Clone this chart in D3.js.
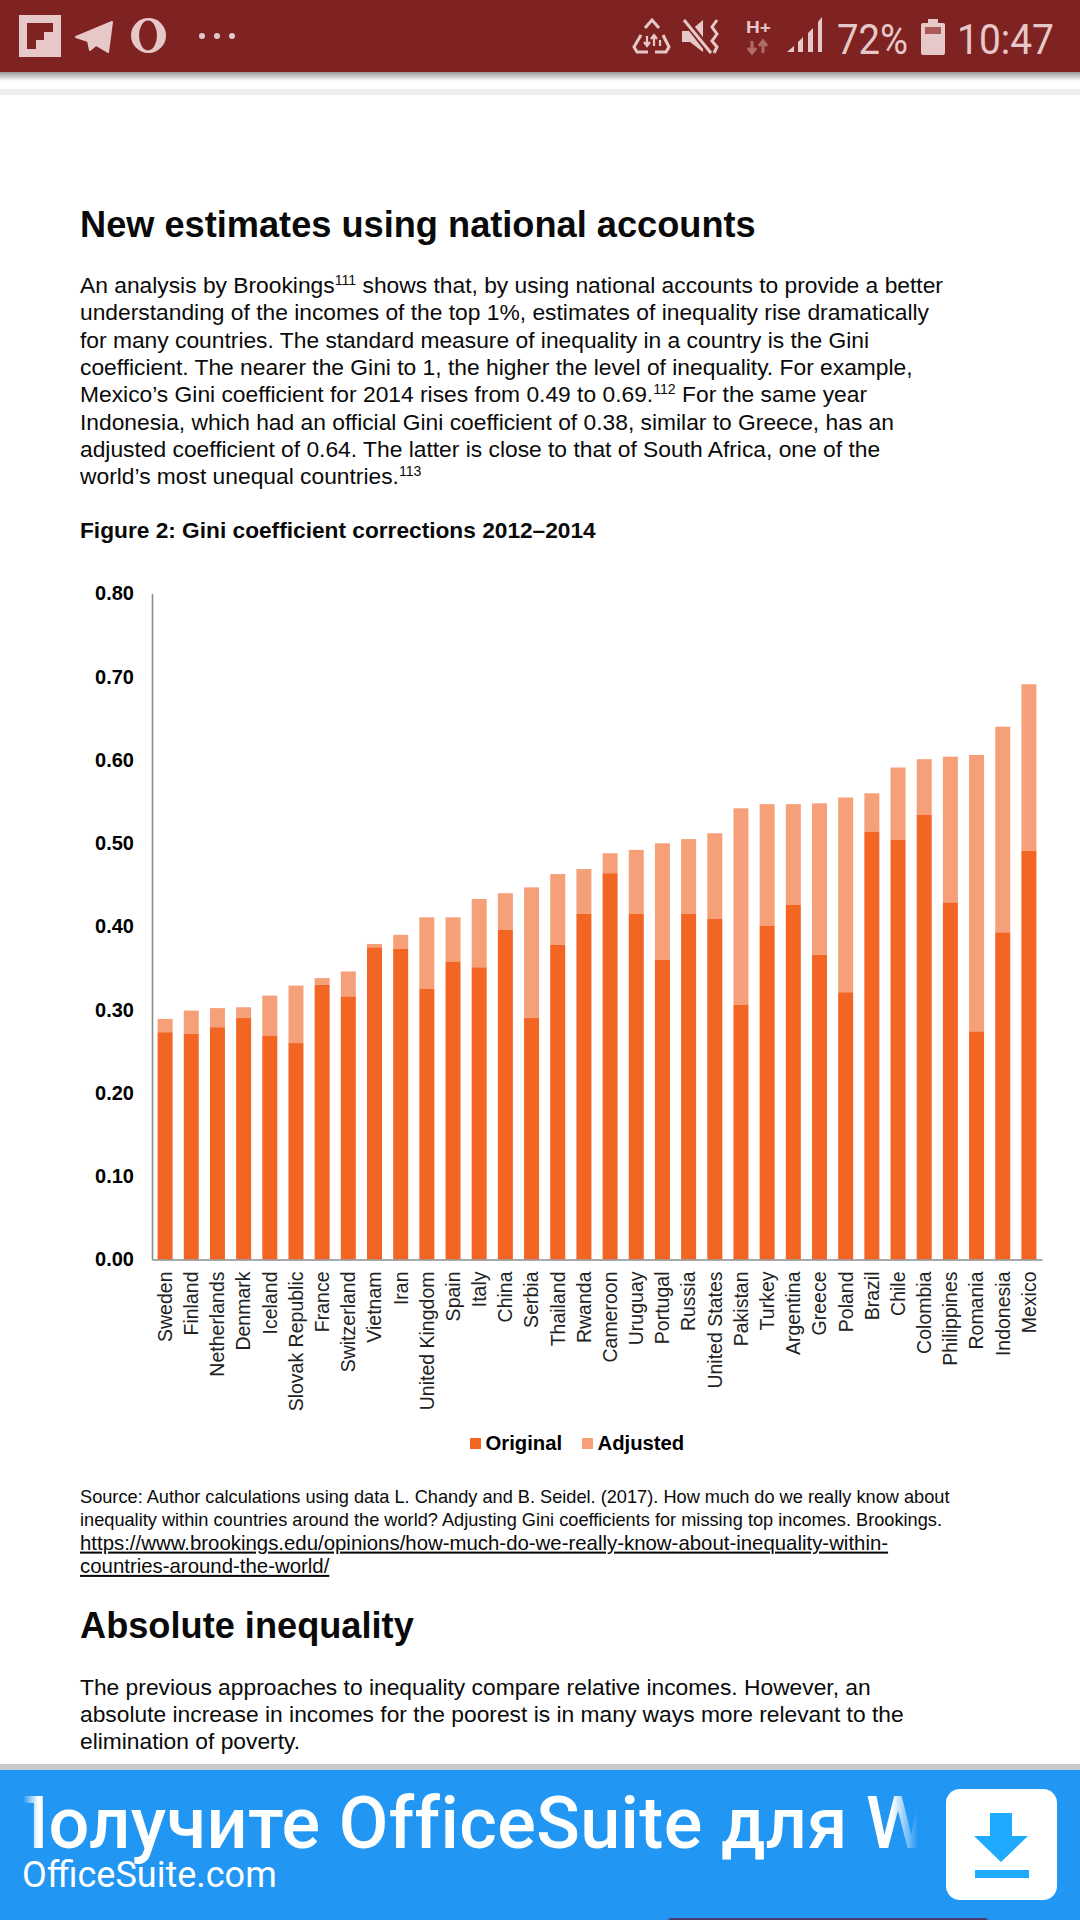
<!DOCTYPE html>
<html lang="en">
<head>
    <meta charset="UTF-8">
    <title>Gini coefficient corrections 2012–2014</title>
    <script src="https://d3js.org/d3.v7.min.js"></script>
    <style>
        body { margin: 0; padding: 0; background: #fff; }
        svg { display: block; }
        text { font-family: "Liberation Sans", Arial, sans-serif; fill: #0a0a0a; }
        .axis text { font-family: "Liberation Sans", Arial, sans-serif; }
    </style>
</head>
<body>
    <script>
        // Chart data
        var countries = ["Sweden", "Finland", "Netherlands", "Denmark", "Iceland", "Slovak Republic", "France",
            "Switzerland", "Vietnam", "Iran", "United Kingdom", "Spain", "Italy", "China", "Serbia", "Thailand",
            "Rwanda", "Cameroon", "Uruguay", "Portugal", "Russia", "United States", "Pakistan", "Turkey",
            "Argentina", "Greece", "Poland", "Brazil", "Chile", "Colombia", "Philippines", "Romania",
            "Indonesia", "Mexico"];
        var original = [0.273, 0.271, 0.279, 0.290, 0.269, 0.260, 0.330, 0.316, 0.375, 0.373, 0.325, 0.358,
            0.351, 0.396, 0.290, 0.378, 0.415, 0.464, 0.415, 0.360, 0.415, 0.409, 0.306, 0.401,
            0.426, 0.366, 0.321, 0.514, 0.504, 0.534, 0.429, 0.274, 0.393, 0.491];
        var adjusted = [0.289, 0.299, 0.302, 0.303, 0.317, 0.329, 0.338, 0.346, 0.379, 0.390, 0.411, 0.411,
            0.433, 0.440, 0.447, 0.463, 0.469, 0.488, 0.492, 0.500, 0.505, 0.512, 0.542, 0.547,
            0.547, 0.548, 0.555, 0.560, 0.591, 0.601, 0.604, 0.606, 0.640, 0.691];
        var yTicks = [0, 0.1, 0.2, 0.3, 0.4, 0.5, 0.6, 0.7, 0.8];
        var legendLabels = ["Original", "Adjusted"];

        // Page text (^...^ = superscript)
        var heading1 = "New estimates using national accounts";
        var paragraph1 = [
            "An analysis by Brookings^111^ shows that, by using national accounts to provide a better",
            "understanding of the incomes of the top 1%, estimates of inequality rise dramatically",
            "for many countries. The standard measure of inequality in a country is the Gini",
            "coefficient. The nearer the Gini to 1, the higher the level of inequality. For example,",
            "Mexico’s Gini coefficient for 2014 rises from 0.49 to 0.69.^112^ For the same year",
            "Indonesia, which had an official Gini coefficient of 0.38, similar to Greece, has an",
            "adjusted coefficient of 0.64. The latter is close to that of South Africa, one of the",
            "world’s most unequal countries.^113^"
        ];
        var figureTitle = "Figure 2: Gini coefficient corrections 2012–2014";
        var sourceLines = [
            "Source: Author calculations using data L. Chandy and B. Seidel. (2017). How much do we really know about",
            "inequality within countries around the world? Adjusting Gini coefficients for missing top incomes. Brookings."
        ];
        var sourceLinks = [
            "https://www.brookings.edu/opinions/how-much-do-we-really-know-about-inequality-within-",
            "countries-around-the-world/"
        ];
        var heading2 = "Absolute inequality";
        var paragraph2 = [
            "The previous approaches to inequality compare relative incomes. However, an",
            "absolute increase in incomes for the poorest is in many ways more relevant to the",
            "elimination of poverty."
        ];

        var width = 1080;
        var height = 1920;
        var orange = "#f26522";
        var lightOrange = "#f6a07a";
        var barRed = "#7f2322";
        var iconColor = "#e6c8c8";
        var bannerBlue = "#2196f3";

        var svg = d3.select("body").append("svg")
            .attr("width", width)
            .attr("height", height);

        var defs = svg.append("defs");

        // Status bar
        var shadow = defs.append("linearGradient").attr("id", "shadow")
            .attr("x1", 0).attr("x2", 0).attr("y1", 0).attr("y2", 1);
        shadow.append("stop").attr("offset", 0).attr("stop-color", "#999");
        shadow.append("stop").attr("offset", 1).attr("stop-color", "#fff");

        svg.append("rect").attr("x", 0).attr("y", 72).attr("width", width).attr("height", 9).attr("fill", "url(#shadow)");
        svg.append("rect").attr("x", 0).attr("y", 89).attr("width", width).attr("height", 6).attr("fill", "#eeeeee");
        svg.append("rect").attr("x", 0).attr("y", 0).attr("width", width).attr("height", 72).attr("fill", barRed);

        var statusBar = svg.append("g");

        // left icons
        statusBar.append("rect").attr("x", 19).attr("y", 15).attr("width", 42).attr("height", 42).attr("fill", iconColor);
        statusBar.append("path").attr("d", "M27 23H53V32H44V40H36V49H27Z").attr("fill", barRed);
        statusBar.append("path").attr("d", "M76 37L112 22L108 52L96 45L90 50L88 41Z")
            .attr("fill", iconColor).attr("stroke", iconColor).attr("stroke-width", 2).attr("stroke-linejoin", "round");
        statusBar.append("ellipse").attr("cx", 148.5).attr("cy", 35.5).attr("rx", 17.5).attr("ry", 17.5).attr("fill", iconColor);
        statusBar.append("ellipse").attr("cx", 148).attr("cy", 35.5).attr("rx", 9).attr("ry", 15).attr("fill", barRed);
        statusBar.selectAll("circle.dot").data([202, 217, 232]).join("circle")
            .attr("class", "dot").attr("cx", function(d) { return d; }).attr("cy", 36).attr("r", 3).attr("fill", iconColor);

        // data saver icon
        statusBar.append("path")
            .attr("d", "M645 28L652 20L659 28M641 35L634 47L637 52H648M663 35L669 47L666 52H655")
            .attr("fill", "none").attr("stroke", iconColor).attr("stroke-width", 3);
        statusBar.append("path")
            .attr("d", "M647 36V46M644 42L647 46L650 42M654 46V35M651 39L654 35L657 39M660 46V40")
            .attr("fill", "none").attr("stroke", iconColor).attr("stroke-width", 2.2);

        // mute icon
        statusBar.append("path").attr("d", "M682 31H690L703 20V52L690 42H682Z").attr("fill", iconColor);
        statusBar.append("path").attr("d", "M685 20L710 52").attr("stroke", barRed).attr("stroke-width", 7);
        statusBar.append("path").attr("d", "M684 20L711 53").attr("stroke", iconColor).attr("stroke-width", 3);
        statusBar.append("path").attr("d", "M717 20L712 27L717 34L712 41L717 47L714 53")
            .attr("fill", "none").attr("stroke", iconColor).attr("stroke-width", 3);

        // network icons
        statusBar.append("text").text("H+").attr("x", 746).attr("y", 33).attr("font-size", 17).attr("font-weight", "bold")
            .style("fill", iconColor).attr("textLength", 25).attr("lengthAdjust", "spacingAndGlyphs");
        statusBar.append("path").attr("d", "M752 41V53M748 48L752 53L756 48M763 53V41M759 46L763 41L767 46")
            .attr("fill", "none").attr("stroke", "#b06a68").attr("stroke-width", 3);
        statusBar.append("path")
            .attr("d", "M787 52L794 46V52ZM798 42L803 37V52H798ZM808 33L813 28V52H808ZM818 22L822 17V52H818Z")
            .attr("fill", iconColor);

        statusBar.append("text").text("72%").attr("x", 837).attr("y", 54).attr("font-size", 43)
            .attr("textLength", 71).attr("lengthAdjust", "spacingAndGlyphs")
            .style("font-family", "Roboto").style("font-weight", 400).style("fill", iconColor);
        statusBar.append("rect").attr("x", 921).attr("y", 23).attr("width", 24).attr("height", 32).attr("rx", 2).attr("fill", iconColor);
        statusBar.append("rect").attr("x", 928).attr("y", 19).attr("width", 10).attr("height", 4).attr("fill", iconColor);
        statusBar.append("rect").attr("x", 925).attr("y", 27).attr("width", 16).attr("height", 7).attr("fill", "#a85a58");
        statusBar.append("text").text("10:47").attr("x", 957).attr("y", 54).attr("font-size", 43)
            .attr("textLength", 97).attr("lengthAdjust", "spacingAndGlyphs")
            .style("font-family", "Roboto").style("font-weight", 400).style("fill", iconColor);

        // Page text
        function addLine(x, y, line, size) {
            var t = svg.append("text").attr("x", x).attr("y", y).attr("font-size", size);
            line.split("^").forEach(function(part, i) {
                if (!part) return;
                if (i % 2 === 1) {
                    t.append("tspan").attr("dy", -size * 0.36).attr("font-size", size * 0.62).text(part);
                } else {
                    t.append("tspan").attr("dy", i > 0 ? size * 0.36 : 0).text(part);
                }
            });
            return t;
        }

        addLine(80, 237, heading1, 36.2).attr("font-weight", "bold");
        paragraph1.forEach(function(line, i) {
            addLine(80, 293 + i * 27.3, line, 22.8);
        });
        addLine(80, 538, figureTitle, 22.7).attr("font-weight", "bold");

        // Chart
        var margin = { left: 152, right: 1042, top: 593.5, bottom: 1259.5 };

        var x = d3.scaleBand().domain(countries).range([margin.left, margin.right]).paddingInner(0.427).paddingOuter(0.2135);
        var y = d3.scaleLinear().domain([0, 0.8]).range([margin.bottom, margin.top]);

        svg.selectAll("rect.adjusted").data(countries).join("rect")
            .attr("class", "adjusted")
            .attr("x", function(d) { return x(d); })
            .attr("y", function(d, i) { return y(adjusted[i]); })
            .attr("width", x.bandwidth())
            .attr("height", function(d, i) { return y(original[i]) - y(adjusted[i]); })
            .attr("fill", lightOrange);

        svg.selectAll("rect.original").data(countries).join("rect")
            .attr("class", "original")
            .attr("x", function(d) { return x(d); })
            .attr("y", function(d, i) { return y(original[i]); })
            .attr("width", x.bandwidth())
            .attr("height", function(d, i) { return y(0) - y(original[i]); })
            .attr("fill", orange);

        var yAxis = svg.append("g").attr("class", "axis")
            .attr("transform", "translate(" + margin.left + ",0)")
            .call(d3.axisLeft(y).tickValues(yTicks).tickFormat(d3.format(".2f")).tickSize(0).tickPadding(18));
        yAxis.select(".domain").attr("stroke", "#8c8c8c").attr("stroke-width", 1.6);
        yAxis.selectAll("text").attr("font-size", 20).attr("font-weight", "bold").style("fill", "#000");

        var xAxis = svg.append("g").attr("class", "axis")
            .attr("transform", "translate(0," + margin.bottom + ")")
            .call(d3.axisBottom(x).tickSize(0).tickPadding(0));
        xAxis.select(".domain").attr("stroke", "#8c8c8c").attr("stroke-width", 1.6);
        xAxis.selectAll("text")
            .attr("font-size", 19.5)
            .attr("text-anchor", "end")
            .attr("dy", "0.35em")
            .attr("transform", function() { return "translate(0,12) rotate(-90)"; })
            .attr("x", 0).attr("y", 0)
            .style("fill", "#222");

        // Legend
        var legendX = [470, 582];
        var legendColor = d3.scaleOrdinal().domain(legendLabels).range([orange, lightOrange]);
        var legend = svg.selectAll("g.legend").data(legendLabels).join("g")
            .attr("class", "legend")
            .attr("transform", function(d, i) { return "translate(" + legendX[i] + ",1438)"; });
        legend.append("rect").attr("width", 11).attr("height", 11).attr("fill", function(d) { return legendColor(d); });
        legend.append("text").text(function(d) { return d; })
            .attr("x", 15.5).attr("y", 12).attr("font-size", 20.3).attr("font-weight", "bold").style("fill", "#000");

        // Source note
        sourceLines.forEach(function(line, i) {
            addLine(80, 1503 + i * 23.3, line, 18.2);
        });
        sourceLinks.forEach(function(line, i) {
            addLine(80, 1549.6 + i * 23.3, line, 20.4).attr("text-decoration", "underline");
        });

        addLine(80, 1638, heading2, 36.2).attr("font-weight", "bold");
        paragraph2.forEach(function(line, i) {
            addLine(80, 1695 + i * 27, line, 22.8);
        });

        // Banner at the bottom
        svg.append("rect").attr("x", 0).attr("y", 1764).attr("width", width).attr("height", 6).attr("fill", "#c6cacd");
        svg.append("rect").attr("x", 0).attr("y", 1770).attr("width", width).attr("height", 150).attr("fill", bannerBlue);

        defs.append("clipPath").attr("id", "bannerClip").append("rect")
            .attr("x", 23).attr("y", 1780).attr("width", 894).attr("height", 90);

        svg.append("text").text("Получите OfficeSuite для W")
            .attr("x", -3).attr("y", 1848).attr("font-size", 72)
            .attr("letter-spacing", 0.4)
            .attr("clip-path", "url(#bannerClip)")
            .style("font-family", "Roboto").style("font-weight", 500).style("fill", "#fff");

        var fadeRight = defs.append("linearGradient").attr("id", "fadeRight");
        fadeRight.append("stop").attr("offset", 0).attr("stop-color", bannerBlue).attr("stop-opacity", 0);
        fadeRight.append("stop").attr("offset", 1).attr("stop-color", bannerBlue).attr("stop-opacity", 1);
        svg.append("rect").attr("x", 892).attr("y", 1780).attr("width", 26).attr("height", 90).attr("fill", "url(#fadeRight)");

        var fadeLeft = defs.append("linearGradient").attr("id", "fadeLeft");
        fadeLeft.append("stop").attr("offset", 0).attr("stop-color", bannerBlue).attr("stop-opacity", 1);
        fadeLeft.append("stop").attr("offset", 1).attr("stop-color", bannerBlue).attr("stop-opacity", 0);
        svg.append("rect").attr("x", 23).attr("y", 1780).attr("width", 15).attr("height", 90).attr("fill", "url(#fadeLeft)");

        svg.append("text").text("OfficeSuite.com")
            .attr("x", 22).attr("y", 1887).attr("font-size", 36)
            .style("font-family", "Roboto").style("fill", "#fff");

        svg.append("rect").attr("x", 946).attr("y", 1789).attr("width", 111).attr("height", 111).attr("rx", 14).attr("fill", "#fff");
        svg.append("path").attr("d", "M990 1813H1012V1836H1028L1001 1862L974 1836H990Z").attr("fill", "#1eaaff");
        svg.append("rect").attr("x", 975).attr("y", 1870).attr("width", 54).attr("height", 8).attr("fill", "#1eaaff");
        svg.append("rect").attr("x", 668).attr("y", 1918).attr("width", 320).attr("height", 6).attr("rx", 3).attr("fill", "#4a3a6a");
    </script>
</body>
</html>
